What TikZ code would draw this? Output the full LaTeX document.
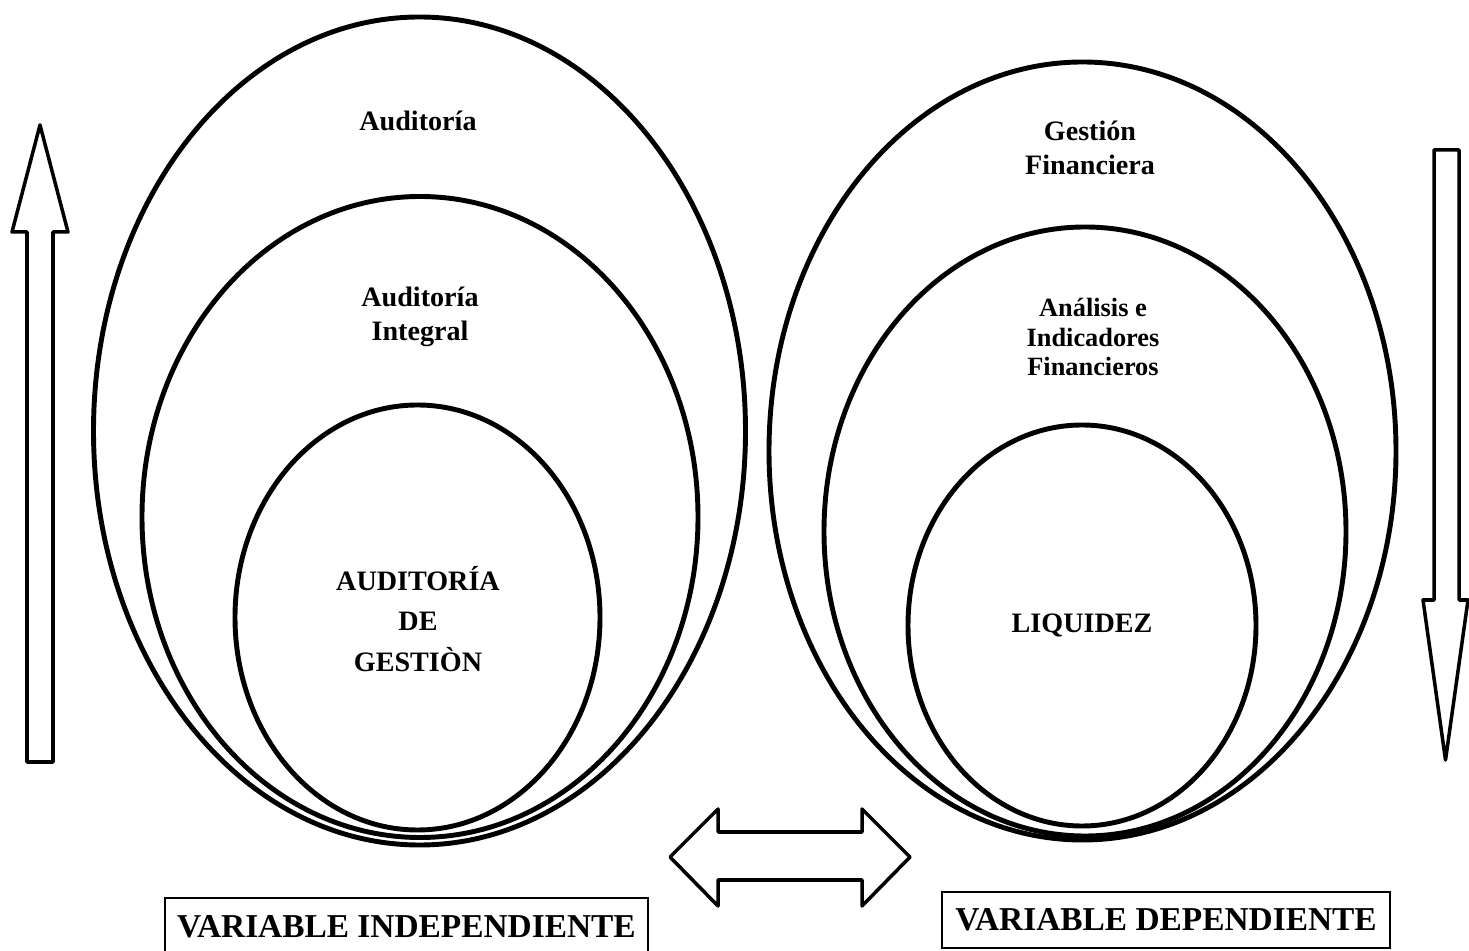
\documentclass[tikz,border=0pt]{standalone}
\usepackage{fontspec}
\setmainfont{Liberation Serif}
\usetikzlibrary{shapes.geometric,positioning}

\begin{document}
\begin{tikzpicture}[
        ring/.style={ellipse, draw, line width=2.8pt, inner sep=0pt},
        lbl/.style={font=\bfseries\fontsize{16}{19}\selectfont, align=center},
        varbox/.style={rectangle, draw, line width=1pt, inner sep=0pt,
                       font=\bfseries\fontsize{19}{22}\selectfont},
        fatarrow/.style={draw, line width=2pt, line join=round}
    ]
        \useasboundingbox (0,0) rectangle (29.38,19.02);

        % left side: independent variable
        \node[ring, minimum width=13.04cm, minimum height=16.56cm] (aud)    at (8.39,10.40) {};
        \node[ring, minimum width=11.12cm, minimum height=12.82cm] (audint) at (8.40,8.68)  {};
        \node[ring, minimum width=7.30cm,  minimum height=8.50cm]  (audges) at (8.35,6.67)  {};

        \node[lbl] (laud)    at (8.36,16.60) {Auditoría};
        \node[lbl] (laudint) at (8.40,12.68) {Auditoría\\Integral};
        \node[lbl, font=\bfseries\fontsize{16}{23}\selectfont] (laudges) at (8.36,6.64)
            {AUDITORÍA\\DE\\GESTIÒN};

        % right side: dependent variable
        \node[ring, minimum width=12.54cm, minimum height=15.56cm] (gesfin) at (21.65,10.00) {};
        \node[ring, minimum width=10.44cm, minimum height=12.18cm] (indfin) at (21.70,8.39)  {};
        \node[ring, minimum width=6.96cm,  minimum height=8.02cm]  (liq)    at (21.64,6.51)  {};

        \node[lbl] (lgesfin) at (21.80,16.06) {Gestión\\Financiera};
        \node[lbl, font=\bfseries\fontsize{15}{17}\selectfont] (lindfin) at (21.86,12.28)
            {Análisis e\\Indicadores\\Financieros};
        \node[lbl] (lliq) at (21.64,6.52) {LIQUIDEZ};

        % variable boxes
        \node[varbox, minimum width=9.66cm, minimum height=1.16cm] (indep) at (8.13,0.48)
            {VARIABLE INDEPENDIENTE};
        \node[varbox, minimum width=8.96cm, minimum height=1.12cm] (dep) at (23.32,0.62)
            {VARIABLE DEPENDIENTE};

        % block arrows
        \draw[fatarrow] (0.54,3.78) -- (0.54,14.38) -- (0.24,14.38) -- (0.80,16.52)
            -- (1.36,14.38) -- (1.06,14.38) -- (1.06,3.78) -- cycle;
        \draw[fatarrow] (28.68,16.02) -- (28.68,7.02) -- (28.46,7.02) -- (28.91,3.82)
            -- (29.36,7.02) -- (29.18,7.02) -- (29.18,16.02) -- cycle;
        \draw[fatarrow] (13.40,1.88) -- (14.36,2.84) -- (14.36,2.38) -- (17.24,2.38)
            -- (17.24,2.84) -- (18.20,1.88) -- (17.24,0.90) -- (17.24,1.42)
            -- (14.36,1.42) -- (14.36,0.90) -- cycle;
    \end{tikzpicture}
\end{document}
